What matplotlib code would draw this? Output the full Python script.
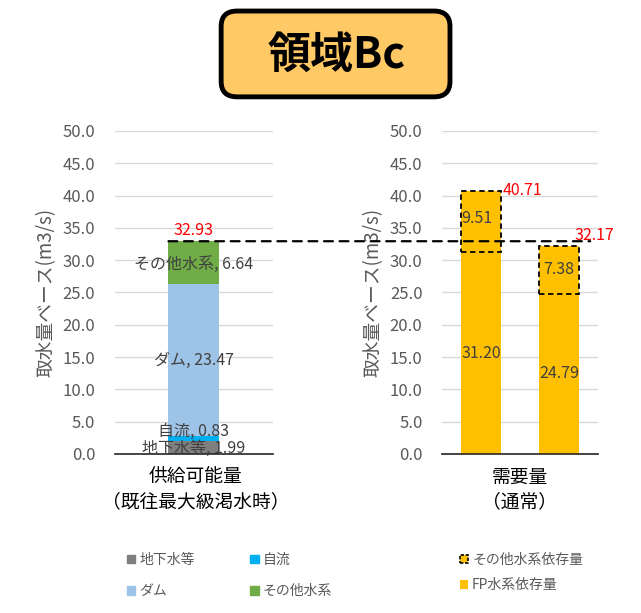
import matplotlib.pyplot as plt
from matplotlib.patches import FancyBboxPatch, Patch, ConnectionPatch

plt.rcParams['font.family'] = ['Noto Sans CJK JP', 'DejaVu Sans']

# supply side (left)
supply_names = ['地下水等', '自流', 'ダム', 'その他水系']
supply_vals = [1.99, 0.83, 23.47, 6.64]
supply_colors = ['#7F7F7F', '#00B0F0', '#9DC3E6', '#70AD47']
supply_total = 32.93

# demand side (right)
demand_cats = ['A', 'B']
fp_vals = [31.20, 24.79]
other_vals = [9.51, 7.38]
demand_totals = [40.71, 32.17]

yticks = [0, 5, 10, 15, 20, 25, 30, 35, 40, 45, 50]
tick_color = '#595959'
label_color = '#404040'

fig = plt.figure(figsize=(6.41, 6.13), dpi=100)
ax1 = fig.add_axes([0.179, 0.2594, 0.2465, 0.527])
ax2 = fig.add_axes([0.6895, 0.2594, 0.2434, 0.527])

for ax in (ax1, ax2):
    ax.set_ylim(0, 50)
    ax.set_yticks(yticks)
    ax.set_yticklabels([f'{v:.1f}' for v in yticks], fontsize=12, color=tick_color)
    ax.yaxis.grid(True, color='#D9D9D9', linewidth=1)
    ax.set_axisbelow(True)
    for s in ['top', 'right', 'left']:
        ax.spines[s].set_visible(False)
    ax.spines['bottom'].set_color('#262626')
    ax.spines['bottom'].set_linewidth(1.2)
    ax.tick_params(axis='both', length=0, pad=14)
    ax.set_xticks([])
    ax.set_ylabel('取水量ベース(m3/s)', fontsize=13.5, color=tick_color, labelpad=4)

# left stacked bar
ax1.set_xlim(-0.5, 0.5)
bottom = 0
handles1 = []
for name, v, c in zip(supply_names, supply_vals, supply_colors):
    ax1.bar(0, v, width=0.32, bottom=bottom, color=c, edgecolor='none')
    handles1.append(Patch(color=c, label=name))
    bottom += v
label_y = [0.9, 3.5, 14.5, 29.3]
for name, v, y in zip(supply_names, supply_vals, label_y):
    ax1.text(0, y, f'{name}, {v:.2f}', ha='center', va='center',
             fontsize=11.5, color=label_color)
ax1.text(0, supply_total + 0.4, f'{supply_total:.2f}', ha='center', va='bottom',
         fontsize=11.5, color='red')

# right bars
ax2.set_xlim(-0.5, 1.5)
xs = range(len(demand_cats))
ax2.bar(xs, fp_vals, width=0.51, color='#FFC000', edgecolor='none')
ax2.bar(xs, other_vals, width=0.51, bottom=fp_vals, color='#FFC000',
        edgecolor='black', linestyle=(0, (3, 2)), linewidth=1.3)
for x, f, o in zip(xs, fp_vals, other_vals):
    ax2.text(x, f / 2, f'{f:.2f}', ha='center', va='center', fontsize=11.5, color=label_color)
ax2.text(-0.05, fp_vals[0] + other_vals[0] * 0.55, f'{other_vals[0]:.2f}', ha='center',
         va='center', fontsize=11.5, color=label_color)
ax2.text(1, fp_vals[1] + other_vals[1] / 2, f'{other_vals[1]:.2f}', ha='center',
         va='center', fontsize=11.5, color=label_color)
ax2.text(0.28, demand_totals[0], f'{demand_totals[0]:.2f}', ha='left', va='center',
         fontsize=11.5, color='red')
ax2.text(1.2, demand_totals[1] + 0.3, f'{demand_totals[1]:.2f}', ha='left', va='bottom',
         fontsize=11.5, color='red')

# dashed line at supply total
con = ConnectionPatch(xyA=(-0.16, supply_total), coordsA=ax1.transData,
                      xyB=(1.4, supply_total), coordsB=ax2.transData,
                      color='black', linestyle=(0, (4, 3)), linewidth=1.6)
fig.add_artist(con)

# category labels
fig.text(0.305, 0.238, '供給可能量\n（既往最大級渇水時）', ha='center', va='top',
         fontsize=13.5, linespacing=1.2)
fig.text(0.811, 0.238, '需要量\n（通常）', ha='center', va='top',
         fontsize=13.5, linespacing=1.2)

# legends
leg1 = fig.legend(handles=[handles1[0], handles1[2], handles1[1], handles1[3]],
                  ncol=2, loc='upper left', bbox_to_anchor=(0.198, 0.098),
                  frameon=False, fontsize=10, handlelength=0.6, handleheight=0.6,
                  handletextpad=0.3, columnspacing=4.0, labelspacing=1.25,
                  borderaxespad=0, borderpad=0)
for t in leg1.get_texts():
    t.set_color(tick_color)
handles2 = [Patch(facecolor='#FFC000', edgecolor='black', linestyle=(0, (2, 1)),
                  linewidth=1.2, label='その他水系依存量'),
            Patch(facecolor='#FFC000', edgecolor='none', label='FP水系依存量')]
leg2 = fig.legend(handles=handles2, loc='upper left', bbox_to_anchor=(0.717, 0.098),
                  frameon=False, fontsize=10, handlelength=0.6, handleheight=0.6,
                  handletextpad=0.3, labelspacing=0.8, borderaxespad=0, borderpad=0)
for t in leg2.get_texts():
    t.set_color(tick_color)

# title box
box = FancyBboxPatch((0.345, 0.842), 0.357, 0.14, boxstyle='round,pad=0,rounding_size=0.025',
                     transform=fig.transFigure, facecolor='#FFC966', edgecolor='black',
                     linewidth=3.5)
fig.add_artist(box)
fig.text(0.525, 0.911, '領域Bc', ha='center', va='center', fontsize=31,
         fontweight='bold')

fig.savefig('out.png', dpi=100)
